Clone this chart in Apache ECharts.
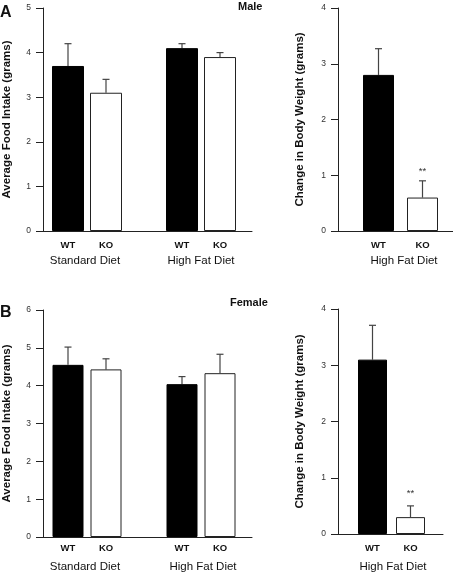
<!DOCTYPE html>
<html>
<head>
<meta charset="utf-8">
<script src="https://cdn.jsdelivr.net/npm/echarts@6/dist/echarts.min.js"></script>
<style>html,body{margin:0;padding:0;background:#fff}#c{width:453px;height:574px}</style>
</head>
<body>
<div id="c"></div>
<script>
// ---- data ----
var intakeCats = ['WT', 'KO', '', 'WT', 'KO'];
var bwCats = ['WT', 'KO'];
var groupLabels = ['Standard Diet', 'High Fat Diet'];

var maleIntakeMean = [3.7, 3.1, null, 4.1, 3.9];
var maleIntakeErr  = [0.5, 0.3, null, 0.1, 0.1];
var maleBwMean = [2.8, 0.6];
var maleBwErr  = [0.47, 0.3];
var maleBwSig  = ['', '**'];

var femIntakeMean = [4.55, 4.43, null, 4.04, 4.33];
var femIntakeErr  = [0.47, 0.28, null, 0.2, 0.5];
var femBwMean = [3.1, 0.3];
var femBwErr  = [0.61, 0.2];
var femBwSig  = ['', '**'];

var intakeTicksMale = [0, 1, 2, 3, 4, 5];
var intakeTicksFem = [0, 1, 2, 3, 4, 5, 6];
var bwTicks = [0, 1, 2, 3, 4];

// ---- styling ----
var FONT = '"Liberation Sans", Arial, Helvetica, sans-serif';
var AXC = '#222';
var isWT = function (c) { return c === 'WT'; };

var chart = echarts.init(document.getElementById('c'), null, {renderer: 'canvas'});

var grids = [], xAxes = [], yAxes = [], series = [];

function addPanel(p) {
  // frame grid: y axis + baseline
  var gf = grids.length;
  grids.push({left: p.frameLeft, top: p.top, width: p.frameWidth, height: p.height, containLabel: false});
  xAxes.push({gridIndex: gf, type: 'value', min: 0, max: 1, position: 'bottom',
    axisLine: {show: true, lineStyle: {color: AXC, width: 1}}, axisTick: {show: false},
    axisLabel: {show: false}, splitLine: {show: false}});
  var ticks = p.ticks;
  yAxes.push({gridIndex: gf, type: 'value', min: ticks[0], max: ticks[ticks.length - 1], interval: 1,
    name: p.yName, nameLocation: 'middle', nameGap: p.nameGap, nameRotate: 90,
    nameTextStyle: {fontFamily: FONT, fontWeight: 'bold', fontSize: 11.5, color: '#111'},
    axisLine: {show: true, lineStyle: {color: AXC, width: 1}},
    axisTick: {show: true, inside: false, length: 7, lineStyle: {color: AXC}},
    axisLabel: {fontFamily: FONT, fontSize: 8.5, color: '#333', margin: 12},
    splitLine: {show: false}});
  // bar grid
  var gb = grids.length;
  grids.push({left: p.barLeft, top: p.top, width: p.barWidthTotal, height: p.height, containLabel: false});
  var xi = xAxes.length;
  xAxes.push({gridIndex: gb, type: 'category', data: p.cats,
    axisLine: {show: false}, axisTick: {show: false},
    axisLabel: {fontFamily: FONT, fontWeight: 'bold', fontSize: 9.5, color: '#111', margin: p.labelMargin, interval: 0},
    splitLine: {show: false}});
  var yi = yAxes.length;
  yAxes.push({gridIndex: gb, type: 'value', min: ticks[0], max: ticks[ticks.length - 1], show: false});

  series.push({type: 'bar', xAxisIndex: xi, yAxisIndex: yi, barWidth: p.barW, z: 3,
    data: p.mean.map(function (v, i) {
      if (v === null) return null;
      return {value: v, itemStyle: isWT(p.cats[i])
        ? {color: '#000', borderColor: '#000', borderWidth: 1}
        : {color: '#fff', borderColor: '#222', borderWidth: 1}};
    })});

  var errData = [];
  p.mean.forEach(function (v, i) {
    if (v !== null) errData.push([i, v, v + p.err[i], p.sig ? p.sig[i] : '']);
  });
  series.push({type: 'custom', xAxisIndex: xi, yAxisIndex: yi, z: 2,
    data: errData,
    renderItem: function (params, api) {
      var x = api.value(0);
      var base = api.coord([x, api.value(1)]);
      var top = api.coord([x, api.value(2)]);
      var d = errData[params.dataIndex];
      var children = [
        {type: 'line', shape: {x1: base[0], y1: base[1], x2: top[0], y2: top[1]}, style: {stroke: '#444', lineWidth: 1.2}},
        {type: 'line', shape: {x1: top[0] - 3.5, y1: top[1], x2: top[0] + 3.5, y2: top[1]}, style: {stroke: '#444', lineWidth: 1.2}}
      ];
      if (d[3]) {
        children.push({type: 'text', x: top[0], y: top[1] - p.sigGap,
          style: {text: d[3], fill: '#333', font: '9.5px ' + FONT, textAlign: 'center', textVerticalAlign: 'bottom'}});
      }
      return {type: 'group', children: children};
    }});
}

addPanel({frameLeft: 43, frameWidth: 209, top: 8, height: 223, barLeft: 49, barWidthTotal: 190,
  cats: intakeCats, mean: maleIntakeMean, err: maleIntakeErr, ticks: intakeTicksMale, barW: 32,
  yName: 'Average Food Intake (grams)', nameGap: 30, labelMargin: 9});
addPanel({frameLeft: 338, frameWidth: 115, top: 8, height: 223, barLeft: 356.5, barWidthTotal: 88,
  cats: bwCats, mean: maleBwMean, err: maleBwErr, sig: maleBwSig, sigGap: 4, ticks: bwTicks, barW: 31,
  yName: 'Change in Body Weight (grams)', nameGap: 32, labelMargin: 9});
addPanel({frameLeft: 43, frameWidth: 209, top: 310, height: 227, barLeft: 49, barWidthTotal: 190,
  cats: intakeCats, mean: femIntakeMean, err: femIntakeErr, ticks: intakeTicksFem, barW: 31,
  yName: 'Average Food Intake (grams)', nameGap: 30, labelMargin: 6});
addPanel({frameLeft: 338, frameWidth: 105, top: 309, height: 225, barLeft: 353.5, barWidthTotal: 76,
  cats: bwCats, mean: femBwMean, err: femBwErr, sig: femBwSig, sigGap: 8, ticks: bwTicks, barW: 29,
  yName: 'Change in Body Weight (grams)', nameGap: 32, labelMargin: 9});

function txt(s, x, y, size, weight, align) {
  return {type: 'text', x: x, y: y, style: {text: s, font: (weight || 'normal') + ' ' + size + 'px ' + FONT,
    fill: '#111', textAlign: align || 'center', textVerticalAlign: 'middle'}};
}

var graphics = [
  txt('A', 0, 13, 16, 'bold', 'left'),
  txt('B', 0, 313, 16, 'bold', 'left'),
  txt('Male', 238, 7, 11, 'bold', 'left'),
  txt('Female', 230, 303, 11, 'bold', 'left'),
  txt(groupLabels[0], 85, 261, 11.5),
  txt(groupLabels[1], 201, 261, 11.5),
  txt(groupLabels[1], 404, 261, 11.5),
  txt(groupLabels[0], 85, 567, 11.5),
  txt(groupLabels[1], 203, 567, 11.5),
  txt(groupLabels[1], 393, 567, 11.5)
];

chart.setOption({
  animation: false,
  backgroundColor: '#fff',
  grid: grids, xAxis: xAxes, yAxis: yAxes, series: series,
  graphic: graphics
});
</script>
</body>
</html>
